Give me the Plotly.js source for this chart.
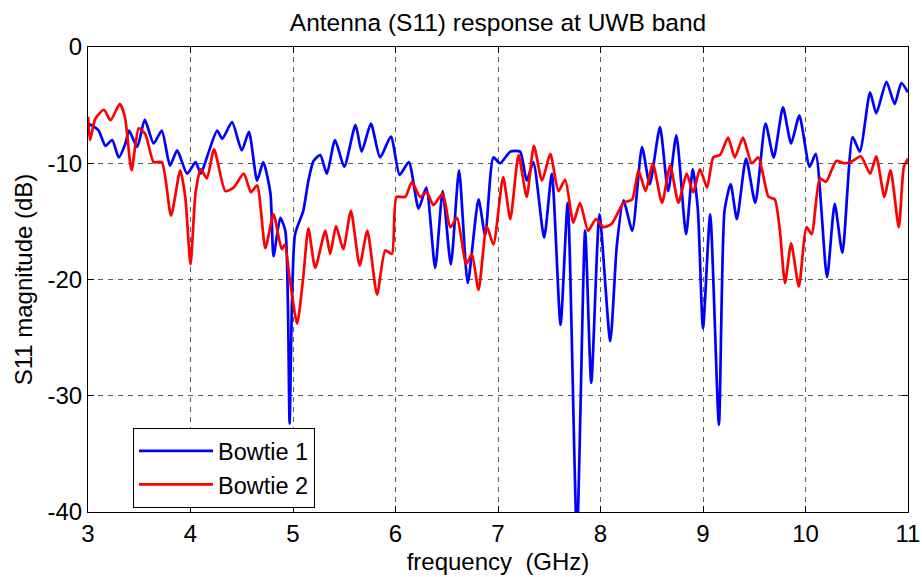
<!DOCTYPE html>
<html>
<head>
<meta charset="utf-8">
<script src="https://cdn.plot.ly/plotly-3.0.1.min.js"></script>
<style>html,body{margin:0;padding:0;background:#fff;}#chart{width:922px;height:577px;}</style>
</head>
<body>
<div id="chart"></div>
<script>
// Bowtie 1 (blue) frequency (GHz) and S11 (dB)
var freq1 = [3.00,3.05,3.105,3.17,3.236,3.30,3.365,3.40,3.48,3.554,3.64,3.72,3.80,3.87,3.967,4.05,4.10,4.16,4.26,4.31,4.405,4.50,4.57,4.65,4.71,4.78,4.81,4.876,4.925,4.95,4.967,4.99,5.02,5.10,5.15,5.20,5.266,5.33,5.41,5.50,5.61,5.67,5.76,5.85,5.955,6.04,6.13,6.225,6.30,6.387,6.46,6.54,6.62,6.705,6.81,6.875,6.955,7.02,7.12,7.215,7.28,7.345,7.45,7.525,7.61,7.68,7.77,7.85,7.91,7.99,8.095,8.16,8.225,8.31,8.405,8.48,8.58,8.66,8.74,8.835,8.90,8.95,9.00,9.07,9.155,9.21,9.27,9.33,9.42,9.51,9.61,9.69,9.78,9.86,9.94,10.04,10.10,10.21,10.285,10.36,10.46,10.53,10.63,10.69,10.79,10.87,10.935,11.00];
var s11b1 = [-6.6,-6.8,-7.2,-8.5,-8.0,-9.5,-8.3,-7.2,-8.6,-6.25,-8.3,-7.2,-10.2,-8.9,-10.9,-9.9,-10.9,-9.5,-7.2,-7.9,-6.45,-8.9,-7.3,-11.5,-9.9,-12.6,-18.0,-14.7,-15.8,-22,-32.4,-22,-16.1,-14.1,-11.5,-9.8,-9.3,-10.9,-8.0,-10.3,-6.7,-9.0,-6.6,-9.5,-7.7,-11.0,-9.9,-13.9,-12.1,-19.0,-12.4,-18.7,-10.6,-20.3,-13.1,-16.2,-9.5,-10.0,-9.0,-9.0,-11.5,-9.9,-16.4,-10.9,-23.9,-13.4,-42,-15.8,-28.9,-14.4,-25.3,-17.0,-13.2,-15.8,-8.6,-11.8,-6.9,-12.4,-7.6,-16.1,-10.5,-14.0,-24.2,-14.4,-32.5,-14.1,-11.8,-14.8,-9.6,-13.4,-6.6,-9.5,-5.2,-8.3,-5.9,-10.3,-9.2,-19.8,-13.5,-17.7,-7.75,-9.0,-3.9,-5.7,-3.0,-4.9,-3.1,-3.9];

// Bowtie 2 (red)
var freq2 = [3.00,3.02,3.07,3.155,3.22,3.31,3.36,3.425,3.495,3.56,3.64,3.72,3.81,3.90,3.95,4.00,4.05,4.10,4.16,4.23,4.34,4.42,4.52,4.59,4.65,4.73,4.81,4.89,4.92,4.97,5.04,5.10,5.15,5.217,5.315,5.363,5.42,5.49,5.565,5.65,5.725,5.82,5.90,5.965,6.01,6.095,6.16,6.24,6.305,6.37,6.46,6.535,6.60,6.69,6.745,6.81,6.89,6.955,7.05,7.12,7.20,7.28,7.35,7.43,7.51,7.59,7.655,7.735,7.80,7.88,7.955,8.03,8.11,8.225,8.31,8.37,8.44,8.51,8.60,8.68,8.76,8.84,8.905,8.97,9.04,9.10,9.165,9.245,9.31,9.39,9.475,9.54,9.64,9.70,9.75,9.80,9.86,9.935,10.01,10.06,10.14,10.20,10.30,10.38,10.46,10.54,10.63,10.69,10.77,10.83,10.91,10.96,11.00];
var s11b2 = [-6.0,-8.0,-6.2,-5.4,-6.3,-4.9,-6.0,-10.6,-7.0,-7.5,-9.9,-9.9,-14.5,-10.6,-13.0,-18.7,-12.5,-10.5,-11.3,-8.8,-12.4,-12.1,-10.9,-12.5,-11.9,-17.3,-14.4,-17.4,-17.0,-20.1,-23.8,-19.8,-15.6,-19.0,-15.8,-17.8,-15.4,-17.4,-14.1,-18.8,-15.8,-21.3,-17.5,-17.8,-12.9,-12.9,-11.6,-12.9,-12.5,-13.6,-12.6,-15.5,-14.7,-18.7,-17.8,-20.9,-15.4,-17.0,-11.2,-14.8,-9.3,-12.9,-8.5,-11.5,-9.2,-12.4,-11.4,-15.1,-13.4,-15.8,-14.8,-15.5,-15.2,-13.4,-13.1,-10.6,-12.4,-10.0,-13.4,-10.2,-13.4,-10.9,-12.5,-10.5,-12.1,-9.5,-9.3,-7.8,-9.5,-7.8,-10.0,-9.5,-12.9,-13.1,-15.8,-20.3,-16.9,-20.6,-15.5,-16.1,-11.3,-11.6,-9.8,-10.0,-9.8,-9.4,-10.9,-9.4,-12.9,-10.6,-15.5,-10.3,-9.6];

var names = ['Bowtie 1','Bowtie 2'];
var xticks = [3,4,5,6,7,8,9,10,11];
var yticks = [0,-10,-20,-30,-40];

var FONT = 'Liberation Sans, Arial, Helvetica, sans-serif';

var traces = [
  {x: freq1, y: s11b1, name: names[0], type: 'scatter', mode: 'lines',
   line: {color: '#0000ff', width: 2.7, shape: 'spline', smoothing: 0.6}},
  {x: freq2, y: s11b2, name: names[1], type: 'scatter', mode: 'lines',
   line: {color: '#ff0000', width: 2.7, shape: 'spline', smoothing: 0.6}}
];

var axisCommon = {
  showline: true, linecolor: '#000', linewidth: 1, mirror: 'ticks',
  ticks: 'inside', ticklen: 6, tickcolor: '#000', tickwidth: 1,
  showgrid: true, gridcolor: '#333', gridwidth: 0.8, griddash: '5px,5px',
  zeroline: false,
  tickfont: {family: FONT, size: 24, color: '#000'}
};

var layout = {
  width: 922, height: 577,
  paper_bgcolor: '#fff', plot_bgcolor: '#fff',
  margin: {l: 88, r: 14, t: 47, b: 65},
  showlegend: true,
  title: {text: 'Antenna (S11) response at UWB band', font: {family: FONT, size: 24.5, color: '#000'},
          x: 0.5, xref: 'paper', y: 1 - 22/577, yref: 'container', xanchor: 'center', yanchor: 'middle'},
  xaxis: Object.assign({}, axisCommon, {
    range: [3, 11], tickvals: xticks, ticktext: xticks.map(String),
    title: {text: 'frequency  (GHz)', font: {family: FONT, size: 24, color: '#000'}, standoff: 7}
  }),
  yaxis: Object.assign({}, axisCommon, {
    range: [-40, 0], tickvals: yticks, ticktext: yticks.map(String),
    title: {text: 'S11 magnitude (dB)', font: {family: FONT, size: 24, color: '#000'}, standoff: 8}
  }),
  legend: {x: 0.0549, y: 0.1806, xanchor: 'left', yanchor: 'top', bgcolor: '#fff',
           bordercolor: '#000', borderwidth: 1, itemwidth: 74,
           font: {family: FONT, size: 23.5, color: '#000'}, tracegroupgap: 0}
};

Plotly.newPlot('chart', traces, layout, {displayModeBar: false, staticPlot: true});
</script>
</body>
</html>
